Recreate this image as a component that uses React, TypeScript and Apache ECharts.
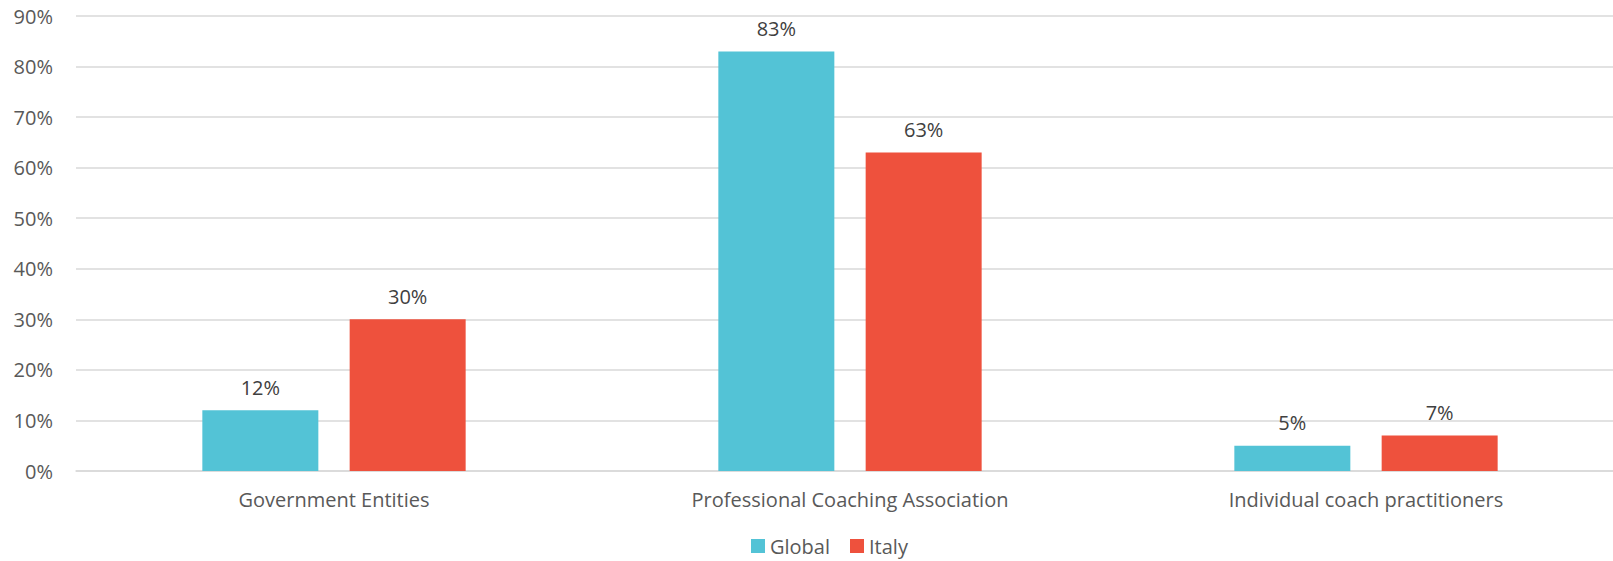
import React, { useEffect, useRef } from "react";
import * as echarts from "echarts";

const categories = ["Government Entities", "Professional Coaching Association", "Individual coach practitioners"];
const globalValues = [12, 83, 5];
const italyValues = [30, 63, 7];
const seriesNames = ["Global", "Italy"];

const FONT = "'Open Sans', 'Noto Sans', sans-serif";

export default function App() {
  const ref = useRef<HTMLDivElement>(null);
  useEffect(() => {
    document.body.style.margin = "0";
    const chart = echarts.init(ref.current!, null, { renderer: "svg" });
    const label = {
      show: true,
      position: "top",
      distance: 13,
      formatter: "{c}%",
      color: "#404040",
      fontSize: 20,
      fontFamily: FONT,
    };
    chart.setOption({
      animation: false,
      backgroundColor: "#ffffff",
      grid: { left: 76, width: 1548, top: 16, bottom: 90, containLabel: false, outerBoundsMode: "none" },
      legend: {
        bottom: 0,
        left: 746,
        itemWidth: 14,
        itemHeight: 14,
        itemGap: 20,
        icon: "rect",
        textStyle: { color: "#595959", fontSize: 20, fontFamily: FONT },
        data: seriesNames,
      },
      xAxis: {
        type: "category",
        data: categories,
        axisLine: { show: true, lineStyle: { color: "#d9d9d9", width: 1.5 } },
        axisTick: { show: false },
        axisLabel: { color: "#595959", fontSize: 20, fontFamily: FONT, margin: 18 },
      },
      yAxis: {
        type: "value",
        min: 0,
        max: 90,
        interval: 10,
        axisLine: { show: false },
        axisTick: { show: false },
        splitLine: { lineStyle: { color: "#d9d9d9", width: 1.5 } },
        axisLabel: { formatter: "{value}%", color: "#595959", fontSize: 20, fontFamily: FONT, margin: 23 },
      },
      series: [
        {
          name: seriesNames[0],
          type: "bar",
          data: globalValues,
          barWidth: 116,
          barGap: "27%",
          itemStyle: { color: "#53C3D6" },
          label,
        },
        {
          name: seriesNames[1],
          type: "bar",
          data: italyValues,
          barWidth: 116,
          itemStyle: { color: "#EE513D" },
          label,
        },
      ],
    });
    return () => chart.dispose();
  }, []);
  return <div ref={ref} style={{ width: 1613, height: 561 }} />;
}
